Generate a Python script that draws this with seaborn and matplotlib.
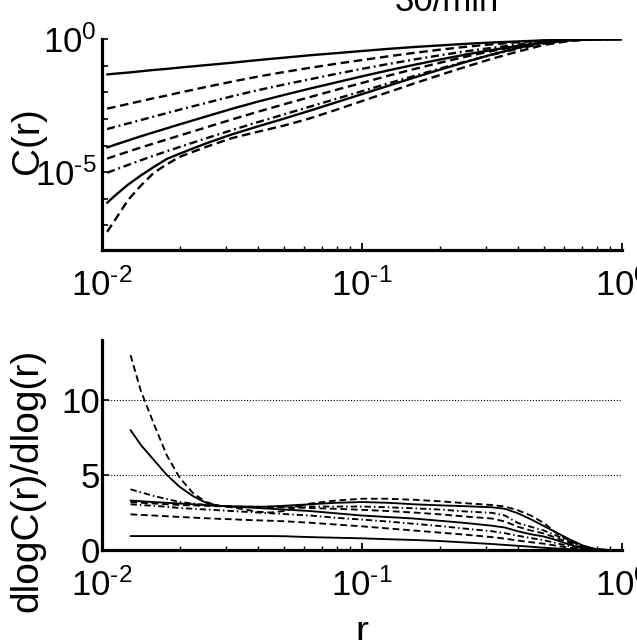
import numpy as np
import pandas as pd
import matplotlib
matplotlib.use("Agg")
import matplotlib.pyplot as plt
import seaborn as sns
from matplotlib.ticker import FixedLocator, FixedFormatter, NullFormatter

# ---------------- data ----------------
# top panel: log10(r) grid and log10 C(r) for 8 curves
log_r_top = [-1.98, -1.95, -1.9, -1.85, -1.8, -1.75, -1.7, -1.6, -1.5, -1.4, -1.3, -1.2,
             -1.1, -1.0, -0.9, -0.8, -0.7, -0.6, -0.5, -0.4, -0.3, -0.2, -0.1, 0.0]
logC_1 = [-1.33, -1.30, -1.26, -1.21, -1.16, -1.12, -1.07, -0.98, -0.89, -0.79, -0.70, -0.61,
          -0.53, -0.45, -0.37, -0.30, -0.24, -0.18, -0.13, -0.09, -0.05, -0.02, -0.005, 0.0]
logC_2 = [-2.61, -2.55, -2.44, -2.33, -2.22, -2.12, -2.01, -1.80, -1.60, -1.41, -1.24, -1.08,
          -0.93, -0.79, -0.65, -0.52, -0.40, -0.29, -0.20, -0.12, -0.06, -0.02, 0.0, 0.0]
logC_3 = [-3.38, -3.30, -3.17, -3.04, -2.91, -2.78, -2.65, -2.40, -2.15, -1.92, -1.71, -1.51,
          -1.31, -1.12, -0.94, -0.77, -0.61, -0.46, -0.33, -0.21, -0.11, -0.04, -0.01, 0.0]
logC_4 = [-4.07, -3.97, -3.81, -3.65, -3.50, -3.35, -3.20, -2.91, -2.62, -2.35, -2.10, -1.86,
          -1.63, -1.40, -1.18, -0.97, -0.77, -0.58, -0.41, -0.26, -0.13, -0.04, -0.01, 0.0]
logC_5 = [-4.49, -4.39, -4.23, -4.07, -3.92, -3.77, -3.62, -3.32, -3.02, -2.73, -2.45, -2.18,
          -1.91, -1.65, -1.38, -1.13, -0.89, -0.66, -0.45, -0.27, -0.13, -0.04, -0.01, 0.0]
logC_6 = [-5.02, -4.91, -4.73, -4.55, -4.38, -4.21, -4.05, -3.73, -3.42, -3.12, -2.83, -2.54,
          -2.25, -1.96, -1.67, -1.39, -1.11, -0.84, -0.59, -0.36, -0.17, -0.05, -0.01, 0.0]
logC_7 = [-6.15, -5.88, -5.47, -5.12, -4.80, -4.50, -4.30, -3.92, -3.58, -3.28, -2.99, -2.69,
          -2.38, -2.07, -1.76, -1.45, -1.15, -0.86, -0.58, -0.33, -0.13, -0.03, 0.0, 0.0]
logC_8 = [-7.24, -6.80, -6.05, -5.50, -5.02, -4.70, -4.42, -4.05, -3.72, -3.48, -3.25, -2.98,
          -2.66, -2.33, -2.00, -1.67, -1.35, -1.04, -0.74, -0.47, -0.22, -0.07, -0.01, 0.0]

# bottom panel: local slope dlogC/dlogr
log_r_bot = [-1.89, -1.85, -1.8, -1.75, -1.7, -1.65, -1.6, -1.55, -1.5, -1.45, -1.4, -1.35,
             -1.3, -1.2, -1.1, -1.0, -0.9, -0.8, -0.7, -0.6, -0.5, -0.45, -0.4, -0.35,
             -0.3, -0.25, -0.2, -0.15, -0.1, -0.05, 0.0]
slope_1 = [0.93, 0.93, 0.93, 0.93, 0.93, 0.93, 0.93, 0.93, 0.93, 0.93, 0.93, 0.93,
           0.92, 0.86, 0.82, 0.78, 0.72, 0.67, 0.60, 0.50, 0.40, 0.34, 0.28, 0.22,
           0.15, 0.10, 0.05, 0.02, 0.0, 0.0, 0.0]
slope_2 = [2.38, 2.34, 2.30, 2.25, 2.20, 2.16, 2.12, 2.08, 2.05, 2.01, 1.98, 1.95,
           1.92, 1.82, 1.70, 1.58, 1.44, 1.30, 1.16, 1.02, 0.86, 0.76, 0.63, 0.52,
           0.42, 0.28, 0.15, 0.05, 0.01, 0.0, 0.0]
slope_3 = [3.05, 3.00, 2.95, 2.88, 2.80, 2.75, 2.70, 2.65, 2.60, 2.55, 2.50, 2.45,
           2.40, 2.30, 2.15, 2.03, 1.90, 1.75, 1.60, 1.42, 1.25, 1.12, 0.95, 0.80,
           0.65, 0.45, 0.25, 0.10, 0.02, 0.0, 0.0]
slope_4 = [3.30, 3.25, 3.20, 3.15, 3.10, 3.05, 3.00, 2.95, 2.90, 2.85, 2.80, 2.75,
           2.70, 2.60, 2.45, 2.30, 2.20, 2.10, 1.95, 1.80, 1.62, 1.50, 1.25, 1.05,
           0.90, 0.65, 0.35, 0.12, 0.02, 0.0, 0.0]
slope_5 = [3.20, 3.15, 3.10, 3.05, 3.00, 2.97, 2.95, 2.92, 2.90, 2.89, 2.88, 2.86,
           2.85, 2.80, 2.75, 2.68, 2.60, 2.50, 2.38, 2.23, 2.10, 1.90, 1.55, 1.30,
           1.10, 0.80, 0.45, 0.15, 0.03, 0.0, 0.0]
slope_6 = [4.05, 3.85, 3.60, 3.40, 3.20, 3.10, 3.00, 2.95, 2.90, 2.89, 2.88, 2.89,
           2.90, 2.90, 2.90, 2.90, 2.85, 2.78, 2.70, 2.57, 2.48, 2.30, 1.80, 1.55,
           1.30, 0.95, 0.55, 0.20, 0.04, 0.0, 0.0]
slope_7 = [8.0, 7.0, 6.0, 5.0, 4.2, 3.6, 3.15, 2.95, 2.90, 2.89, 2.88, 2.90,
           2.95, 3.05, 3.15, 3.20, 3.15, 3.05, 2.98, 2.92, 2.85, 2.75, 2.45, 2.05,
           1.60, 1.15, 0.70, 0.30, 0.06, 0.0, 0.0]
slope_8 = [13.0, 10.6, 8.4, 6.3, 4.8, 3.8, 3.2, 2.95, 2.85, 2.70, 2.55, 2.50,
           2.60, 3.10, 3.30, 3.42, 3.42, 3.35, 3.25, 3.12, 3.00, 2.90, 2.65, 2.30,
           1.80, 1.10, 0.60, 0.25, 0.05, 0.0, 0.0]

curve_names = ["c1", "c2", "c3", "c4", "c5", "c6", "c7", "c8"]
curve_styles = ["solid", "dashed", "dashdot", "solid", "dashed", "dashdot", "solid", "dashed"]

title_text = "30/min"
x_ticks = [0.01, 0.1, 1.0]
x_tick_labels = [r"$\mathregular{10^{‐2}}$", r"$\mathregular{10^{‐1}}$", r"$\mathregular{10^{0}}$"]
y_ticks_top = [1.0, 1e-5]
y_tick_labels_top = [r"$\mathregular{10^{0}}$", r"$\mathregular{10^{‐5}}$"]
y_ticks_bot = [0, 5, 10]
y_tick_labels_bot = ["0", "5", "10"]

# ---------------- style ----------------
sns.set_theme(style="white")
plt.rcParams["font.family"] = ["Liberation Sans", "DejaVu Sans"]
for k in ["text.color", "axes.labelcolor", "xtick.color", "ytick.color", "axes.edgecolor"]:
    plt.rcParams[k] = "black"

dash_patterns = {"solid": "", "dashed": (3.6, 2.0), "dashdot": (3.4, 1.6, 0.8, 1.6)}
dash_map = {n: dash_patterns[s] for n, s in zip(curve_names, curve_styles)}

top_series = [logC_1, logC_2, logC_3, logC_4, logC_5, logC_6, logC_7, logC_8]
bot_series = [slope_1, slope_2, slope_3, slope_4, slope_5, slope_6, slope_7, slope_8]

top_df = pd.concat([
    pd.DataFrame({"r": 10.0 ** np.array(log_r_top), "C": 10.0 ** np.array(v), "curve": n})
    for n, v in zip(curve_names, top_series)], ignore_index=True)
bot_df = pd.concat([
    pd.DataFrame({"r": 10.0 ** np.array(log_r_bot), "D": v, "curve": n})
    for n, v in zip(curve_names, bot_series)], ignore_index=True)

fig = plt.figure(figsize=(6.37, 6.40), dpi=100)
ax1 = fig.add_axes([0.160, 0.609, 0.8163, 0.330])
ax2 = fig.add_axes([0.160, 0.1406, 0.8163, 0.328])

pal = {n: "black" for n in curve_names}
sns.lineplot(data=top_df, x="r", y="C", hue="curve", style="curve", palette=pal,
             dashes=dash_map, legend=False, estimator=None, sort=False, ax=ax1, linewidth=1.7)
sns.lineplot(data=bot_df, x="r", y="D", hue="curve", style="curve", palette=pal,
             dashes=dash_map, legend=False, estimator=None, sort=False, ax=ax2, linewidth=1.35)

TICK_FS = 25
LABEL_FS = 28
minor_x = [m * 10.0 ** e for e in (-2, -1) for m in range(2, 10)]
for ax in (ax1, ax2):
    ax.set_xscale("log")
    ax.set_xlim(0.01, 1.0)
    ax.spines["top"].set_visible(False)
    ax.spines["right"].set_visible(False)
    for s in ("left", "bottom"):
        ax.spines[s].set_linewidth(2.3)
        ax.spines[s].set_color("black")
    ax.xaxis.set_major_locator(FixedLocator(x_ticks))
    ax.xaxis.set_major_formatter(FixedFormatter(x_tick_labels))
    ax.xaxis.set_minor_locator(FixedLocator(minor_x))
    ax.xaxis.set_minor_formatter(NullFormatter())
    ax.tick_params(axis="x", which="major", direction="in", length=5, width=1.3,
                   labelsize=TICK_FS, pad=13, bottom=True)
    ax.tick_params(axis="x", which="minor", direction="in", length=3, width=1.0, bottom=True)
    ax.set_xlabel("")

# top panel
ax1.set_yscale("log")
ax1.set_ylim(10 ** -7.93, 1.0)
ax1.yaxis.set_major_locator(FixedLocator(y_ticks_top))
ax1.yaxis.set_major_formatter(FixedFormatter(y_tick_labels_top))
ax1.yaxis.set_minor_locator(FixedLocator([1e-1, 1e-2, 1e-3, 1e-4, 1e-6, 1e-7]))
ax1.yaxis.set_minor_formatter(NullFormatter())
ax1.tick_params(axis="y", which="both", direction="in", length=4, width=1.2,
                labelsize=TICK_FS, pad=4, left=True)
ax1.set_ylabel("C(r)", fontsize=LABEL_FS)
ax1.yaxis.set_label_coords(-0.108, 0.52)

# bottom panel
ax2.set_ylim(0, 14)
ax2.yaxis.set_major_locator(FixedLocator(y_ticks_bot))
ax2.yaxis.set_major_formatter(FixedFormatter(y_tick_labels_bot))
ax2.tick_params(axis="y", which="major", direction="in", length=5, width=1.2,
                labelsize=TICK_FS, pad=1.5, left=True)
ax2.yaxis.grid(True, linestyle=(0, (1, 1.6)), color="black", linewidth=0.8)
ax2.set_axisbelow(True)
ax2.set_ylabel("dlogC(r)/dlog(r)", fontsize=LABEL_FS)
ax2.yaxis.set_label_coords(-0.108, 0.333)
ax2.set_xlabel("r", fontsize=LABEL_FS)
ax2.xaxis.set_label_coords(0.5, -0.31)

fig.text(447 / 637, 1 - 11 / 640, title_text, ha="center", va="baseline", fontsize=TICK_FS)

fig.savefig("out.png", dpi=100)
